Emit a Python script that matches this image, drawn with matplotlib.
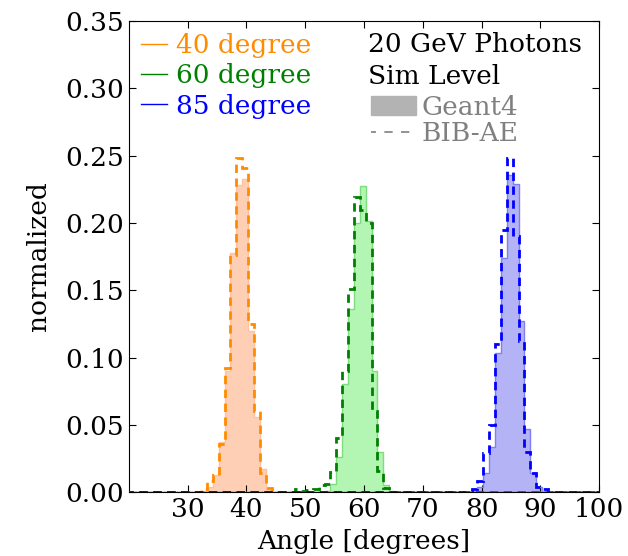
import matplotlib
matplotlib.use("Agg")
import matplotlib.pyplot as plt
import numpy as np
from matplotlib.lines import Line2D
from matplotlib.patches import Patch

plt.rcParams['font.family'] = 'DejaVu Serif'
plt.rcParams['font.size'] = 19
plt.rcParams['xtick.direction'] = 'in'
plt.rcParams['ytick.direction'] = 'in'
plt.rcParams['xtick.top'] = True
plt.rcParams['ytick.right'] = True
plt.rcParams['xtick.major.size'] = 5
plt.rcParams['ytick.major.size'] = 5

# 1-degree bins, values (normalized)
bin_offset = 0.3
bins_lo, bins_hi = 19, 100

# Geant4 (filled) -- first bin index, then values
g4_40_start = 32
g4_40 = [0.001, 0.004, 0.0125, 0.037, 0.09, 0.1775, 0.228, 0.233, 0.12, 0.056, 0.0175, 0.0015]
g4_60_start = 53
g4_60 = [0.001, 0.006, 0.026, 0.08, 0.136, 0.200, 0.2275, 0.2016, 0.09, 0.03, 0.005, 0.001]
g4_85_start = 79
g4_85 = [0.004, 0.014, 0.0335, 0.1036, 0.174, 0.2355, 0.229, 0.127, 0.047, 0.014, 0.004]

# BIB-AE (dashed)
ae_40_start = 32
ae_40 = [0.002, 0.008, 0.013, 0.036, 0.092, 0.176, 0.248, 0.241, 0.125, 0.06, 0.014, 0.003]
ae_60_start = 48
ae_60 = [0.002, 0.001, 0.0015, 0.002, 0.005, 0.006, 0.015, 0.04, 0.09, 0.151, 0.219, 0.21, 0.2, 0.06, 0.016, 0.003]
ae_85_start = 77
ae_85 = [0.001, 0.002, 0.008, 0.029, 0.0495, 0.11, 0.195, 0.248, 0.19, 0.112, 0.03, 0.014, 0.004, 0.002]

angles = ['40 degree', '60 degree', '85 degree']
line_colors = ['darkorange', 'green', 'blue']
fill_colors = ['#ffcfb5', '#b3f5b3', '#b3b3f5']
edge_colors = ['#ffc29a', '#7fdc7f', '#7f7ff0']

edges = np.arange(bins_lo, bins_hi + 1) + bin_offset


def full(start, vals):
    h = np.zeros(len(edges) - 1)
    i = start - bins_lo
    h[i:i + len(vals)] = vals
    return h


g4 = [full(g4_40_start, g4_40), full(g4_60_start, g4_60), full(g4_85_start, g4_85)]
ae = [full(ae_40_start, ae_40), full(ae_60_start, ae_60), full(ae_85_start, ae_85)]

fig = plt.figure(figsize=(6.28, 5.56), dpi=100)
ax = fig.add_axes([0.205, 0.115, 0.749, 0.847])

for h, fc, ec in zip(g4, fill_colors, edge_colors):
    ax.stairs(h, edges, fill=True, color=fc, zorder=1)
    ax.stairs(h, edges, color=ec, lw=1, zorder=2)
for h, lc in zip(ae, line_colors):
    ax.stairs(h, edges, color=lc, lw=2, linestyle=(0, (3, 2)), zorder=3)

ax.set_xlim(20, 100)
ax.set_ylim(0, 0.35)
ax.set_xticks(range(30, 101, 10))
ax.set_yticks(np.arange(0, 0.351, 0.05))
ax.set_yticklabels(['%.2f' % v for v in np.arange(0, 0.351, 0.05)])
ax.set_xlabel('Angle [degrees]', labelpad=5)
ax.set_ylabel('normalized', labelpad=10)

# angle legend
handles = [Line2D([], [], color=c, lw=1) for c in line_colors]
leg1 = ax.legend(handles, angles, loc='upper left', frameon=False, handlelength=1.0,
                 handletextpad=0.35, labelspacing=0.2, borderaxespad=0.05,
                 labelcolor=line_colors)
ax.add_artist(leg1)

ax.text(0.508, 0.951, '20 GeV Photons', transform=ax.transAxes, ha='left', va='center')
ax.text(0.508, 0.883, 'Sim Level', transform=ax.transAxes, ha='left', va='center')
h2 = [Patch(color='#b3b3b3'), Line2D([], [], color='gray', lw=1.2, linestyle=(2, (5, 5)))]
ax.legend(h2, ['Geant4', 'BIB-AE'], loc='upper left', bbox_to_anchor=(0.465, 0.894),
          frameon=False, handlelength=1.7, handletextpad=0.2, labelspacing=0.05,
          labelcolor='gray')

fig.savefig('out.png', dpi=100)
